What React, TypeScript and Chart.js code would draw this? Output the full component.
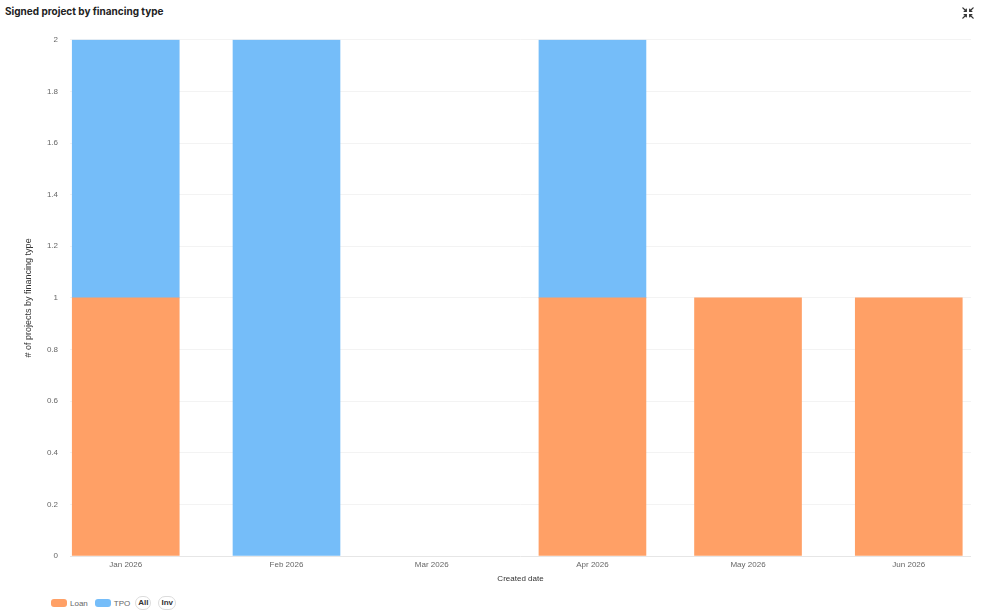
import { Chart, registerables } from 'chart.js';
import { useEffect, useRef } from 'react';

Chart.register(...registerables);

// month starts (time axis by day, so spacing follows month lengths)
const monthDates = ['2026-01-01', '2026-02-01', '2026-03-01', '2026-04-01', '2026-05-01', '2026-06-01'];
const monthLabels = ['Jan 2026', 'Feb 2026', 'Mar 2026', 'Apr 2026', 'May 2026', 'Jun 2026'];
const loanValues = [1, 0, 0, 1, 1, 1];
const tpoValues = [1, 2, 0, 1, 0, 0];
const yTicks = [0, 0.2, 0.4, 0.6, 0.8, 1, 1.2, 1.4, 1.6, 1.8, 2];

const LOAN = '#FFA066';
const TPO = '#75BDF9';
const TITLE_FONT = 'Inter, "Noto Sans", sans-serif';
const FONT = '"Helvetica Neue", Helvetica, Arial, "Liberation Sans", sans-serif';

const dayOf = (iso: string) => (Date.parse(iso) - Date.parse(monthDates[0])) / 86400000;
const monthDays = monthDates.map(dayOf);

function ChartComponent() {
    const canvasRef = useRef<HTMLCanvasElement>(null);
    const chartRef = useRef<Chart | null>(null);

    useEffect(() => {
        if (!canvasRef.current) return;
        if (chartRef.current) chartRef.current.destroy();

        chartRef.current = new Chart(canvasRef.current, {
            type: 'bar',
            data: {
                datasets: [
                    {
                        label: 'Loan',
                        data: loanValues.map((v, i) => ({ x: monthDays[i], y: v === 0 ? null : v })),
                        backgroundColor: LOAN,
                        barThickness: 107,
                        borderWidth: 0,
                    },
                    {
                        label: 'TPO',
                        data: tpoValues.map((v, i) => ({ x: monthDays[i], y: v === 0 ? null : v })),
                        backgroundColor: TPO,
                        barThickness: 107,
                        borderWidth: 0,
                    },
                ],
            },
            options: {
                animation: false,
                responsive: true,
                maintainAspectRatio: false,
                layout: { padding: { left: 19, right: 11, top: 3, bottom: 0 } },
                plugins: {
                    legend: { display: false },
                    tooltip: { enabled: false },
                },
                scales: {
                    x: {
                        type: 'linear',
                        stacked: true,
                        offset: false,
                        min: -10.75,
                        max: 163,
                        afterBuildTicks: (scale: any) => {
                            scale.ticks = monthDays.map((v) => ({ value: v }));
                        },
                        afterFit: (scale: any) => { scale.height = 32; },
                        grid: { display: false, drawTicks: false, offset: false },
                        border: { display: false },
                        ticks: {
                            padding: 4,
                            color: '#666',
                            font: { family: FONT, size: 8 },
                            maxRotation: 0,
                            autoSkip: false,
                            callback: (value: any) => monthLabels[monthDays.indexOf(Number(value))] ?? '',
                        },
                        title: {
                            display: true,
                            text: 'Created date',
                            color: '#333',
                            font: { family: FONT, size: 8 },
                            padding: { top: 4, bottom: 4 },
                        },
                    },
                    y: {
                        stacked: true,
                        min: 0,
                        max: 2,
                        afterBuildTicks: (scale: any) => {
                            scale.ticks = yTicks.map((v) => ({ value: v }));
                        },
                        afterFit: (scale: any) => { scale.width = 51; },
                        grid: {
                            drawTicks: false,
                            color: (ctx: any) => (ctx.tick && ctx.tick.value === 0 ? '#e6e6e6' : '#f3f3f3'),
                        },
                        border: { display: false },
                        ticks: {
                            padding: 12,
                            color: '#666',
                            font: { family: FONT, size: 8 },
                            callback: (value: any) => String(Math.round(Number(value) * 10) / 10),
                        },
                        title: {
                            display: true,
                            text: '# of projects by financing type',
                            color: '#333',
                            font: { family: FONT, size: 9 },
                            padding: { top: 4, bottom: 4 },
                        },
                    },
                },
            },
        });

        return () => {
            if (chartRef.current) {
                chartRef.current.destroy();
                chartRef.current = null;
            }
        };
    }, []);

    return <canvas ref={canvasRef} />;
}

const swatch = (color: string) => (
    <span style={{ display: 'inline-block', width: 16, height: 8, borderRadius: 3, background: color, marginRight: 3 }} />
);

const pill = (text: string, gap: number) => (
    <span style={{
        display: 'inline-block', border: '1px solid #dcdcdc', borderRadius: 7, padding: '0 2px',
        fontSize: 8, fontWeight: 600, color: '#333', lineHeight: '12px', marginRight: gap,
    }}>{text}</span>
);

export default function App() {
    return (
        <div style={{ position: 'fixed', left: 0, top: 0, width: 982, height: 615, background: '#fff', fontFamily: FONT }}>
            <div style={{ position: 'absolute', left: 5, top: 5, fontFamily: TITLE_FONT, fontSize: 10, fontWeight: 700, color: '#222' }}>
                Signed project by financing type
            </div>
            <svg style={{ position: 'absolute', left: 962, top: 7 }} width="12" height="12" viewBox="0 0 14 14">
                <g stroke="#333" strokeWidth="1.5" fill="none" strokeLinecap="round">
                    <path d="M1 1 L5 5 M5 2.5 L5 5 L2.5 5" />
                    <path d="M13 1 L9 5 M9 2.5 L9 5 L11.5 5" />
                    <path d="M1 13 L5 9 M5 11.5 L5 9 L2.5 9" />
                    <path d="M13 13 L9 9 M9 11.5 L9 9 L11.5 9" />
                </g>
            </svg>
            <div style={{ position: 'absolute', left: 0, top: 23, width: 982, height: 565 }}>
                <ChartComponent />
            </div>
            <div style={{ position: 'absolute', left: 51, top: 596, display: 'flex', alignItems: 'center', fontSize: 8, color: '#666' }}>
                {swatch(LOAN)}<span style={{ marginRight: 7 }}>Loan</span>
                {swatch(TPO)}<span style={{ marginRight: 5 }}>TPO</span>
                {pill('All', 7)}{pill('Inv', 0)}
            </div>
        </div>
    );
}
